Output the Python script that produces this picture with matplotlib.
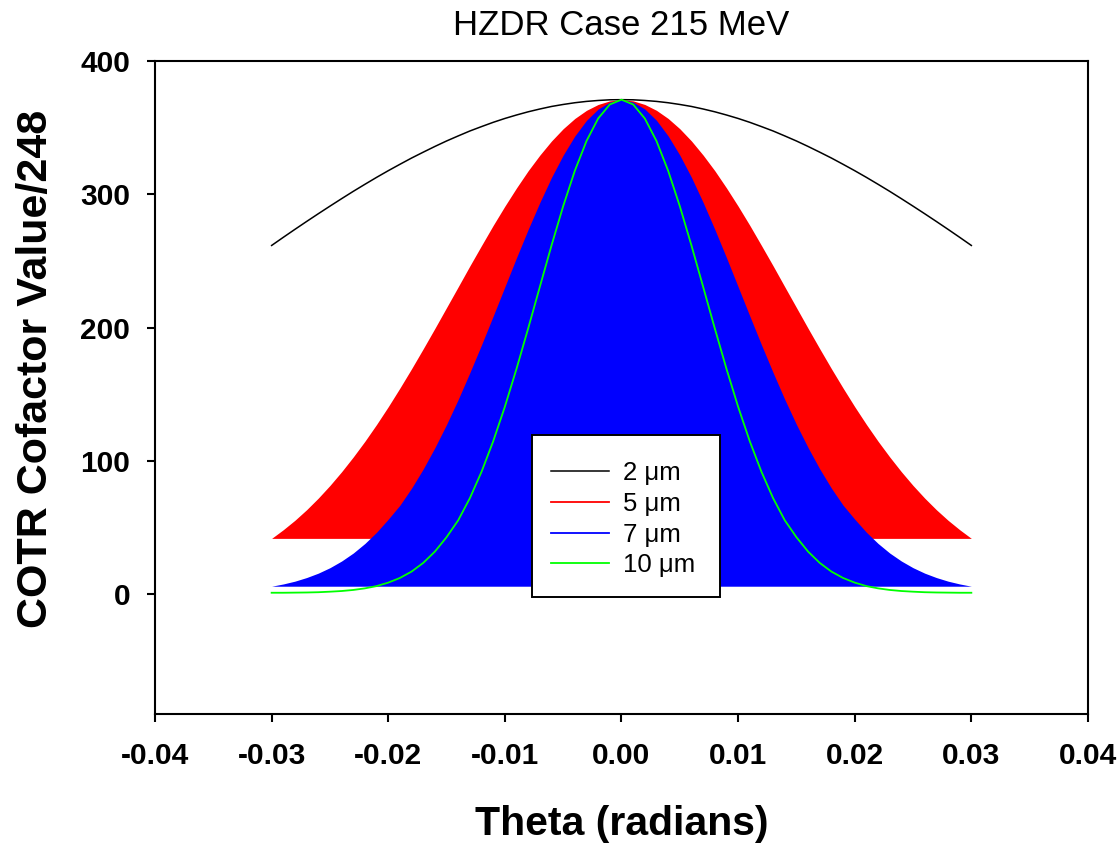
import matplotlib.pyplot as plt
from matplotlib.patches import Rectangle
from matplotlib.ticker import FormatStrFormatter

plt.rcParams['font.family'] = ['Liberation Sans', 'DejaVu Sans']
plt.rcParams['axes.unicode_minus'] = False

# Theta (radians) and the four COTR cofactor curves
theta = [-0.030, -0.029, -0.028, -0.027, -0.026, -0.025, -0.024, -0.023, -0.022, -0.021,
         -0.020, -0.019, -0.018, -0.017, -0.016, -0.015, -0.014, -0.013, -0.012, -0.011,
         -0.010, -0.009, -0.008, -0.007, -0.006, -0.005, -0.004, -0.003, -0.002, -0.001,
         0.000, 0.001, 0.002, 0.003, 0.004, 0.005, 0.006, 0.007, 0.008, 0.009,
         0.010, 0.011, 0.012, 0.013, 0.014, 0.015, 0.016, 0.017, 0.018, 0.019,
         0.020, 0.021, 0.022, 0.023, 0.024, 0.025, 0.026, 0.027, 0.028, 0.029, 0.030]

cof_2um = [261.6, 267.7, 273.7, 279.6, 285.4, 291.1, 296.7, 302.2, 307.5, 312.7,
           317.7, 322.5, 327.2, 331.6, 335.9, 340.0, 343.8, 347.5, 350.8, 354.0,
           356.9, 359.5, 361.9, 364.0, 365.9, 367.4, 368.7, 369.7, 370.4, 370.9,
           371.0, 370.9, 370.4, 369.7, 368.7, 367.4, 365.9, 364.0, 361.9, 359.5,
           356.9, 354.0, 350.8, 347.5, 343.8, 340.0, 335.9, 331.6, 327.2, 322.5,
           317.7, 312.7, 307.5, 302.2, 296.7, 291.1, 285.4, 279.6, 273.7, 267.7, 261.6]

cof_5um = [41.8, 48.3, 55.4, 63.3, 72.0, 81.5, 91.8, 102.9, 114.7, 127.3,
           140.6, 154.6, 169.1, 184.1, 199.4, 215.0, 230.6, 246.3, 261.6, 276.7,
           291.1, 304.8, 317.7, 329.4, 340.0, 349.2, 356.9, 363.0, 367.4, 370.1,
           371.0, 370.1, 367.4, 363.0, 356.9, 349.2, 340.0, 329.4, 317.7, 304.8,
           291.1, 276.7, 261.6, 246.3, 230.6, 215.0, 199.4, 184.1, 169.1, 154.6,
           140.6, 127.3, 114.7, 102.9, 91.8, 81.5, 72.0, 63.3, 55.4, 48.3, 41.8]

cof_7um = [5.9, 7.6, 9.7, 12.4, 15.7, 19.8, 24.8, 30.8, 38.0, 46.4,
           56.2, 66.7, 79.5, 93.9, 109.9, 127.3, 146.1, 166.2, 187.1, 208.7,
           230.6, 252.5, 273.7, 293.9, 312.7, 329.4, 343.8, 355.5, 364.0, 369.2,
           371.0, 369.2, 364.0, 355.5, 343.8, 329.4, 312.7, 293.9, 273.7, 252.5,
           230.6, 208.7, 187.1, 166.2, 146.1, 127.3, 109.9, 93.9, 79.5, 66.7,
           56.2, 46.4, 38.0, 30.8, 24.8, 19.8, 15.7, 12.4, 9.7, 7.6, 5.9]

cof_10um = [1.0, 1.0, 1.1, 1.2, 1.4, 1.8, 2.3, 3.1, 4.3, 6.0,
            8.6, 12.1, 16.9, 23.4, 31.9, 42.7, 55.4, 72.0, 91.8, 114.7,
            140.6, 169.1, 199.4, 230.6, 261.6, 291.1, 317.7, 340.0, 356.9, 367.4,
            371.0, 367.4, 356.9, 340.0, 317.7, 291.1, 261.6, 230.6, 199.4, 169.1,
            140.6, 114.7, 91.8, 72.0, 55.4, 42.7, 31.9, 23.4, 16.9, 12.1,
            8.6, 6.0, 4.3, 3.1, 2.3, 1.8, 1.4, 1.2, 1.1, 1.0, 1.0]

labels = ['2 \u03bcm', '5 \u03bcm', '7 \u03bcm', '10 \u03bcm']
colors = ['black', '#ff0000', '#0000ff', '#00ff00']

fig = plt.figure(figsize=(11.2, 8.44), dpi=100)
ax = fig.add_axes([0.1384, 0.154, 0.833, 0.7737])

# filled regions go down to each curve's own minimum
ax.fill_between(theta, cof_5um, min(cof_5um), color=colors[1], lw=0, zorder=2)
ax.fill_between(theta, cof_7um, min(cof_7um), color=colors[2], lw=0, zorder=3)
l1, = ax.plot(theta, cof_2um, color=colors[0], lw=1.1, zorder=4)
l4, = ax.plot(theta, cof_10um, color=colors[3], lw=1.3, zorder=5)
l2 = plt.Line2D([], [], color=colors[1], lw=1.3)
l3 = plt.Line2D([], [], color=colors[2], lw=1.3)

ax.set_xlim(-0.04, 0.04)
ax.set_ylim(-90, 400)
ax.set_xticks([-0.04, -0.03, -0.02, -0.01, 0.0, 0.01, 0.02, 0.03, 0.04])
ax.set_yticks([0, 100, 200, 300, 400])
ax.xaxis.set_major_formatter(FormatStrFormatter('%.2f'))

for s in ax.spines.values():
    s.set_linewidth(1.5)
ax.tick_params(direction='out', length=6, width=1.5, top=False, right=False,
               labelsize=21.5, pad=12)
ax.tick_params(axis='x', pad=14)
for t in ax.get_xticklabels() + ax.get_yticklabels():
    t.set_fontweight('bold')

ax.set_title('HZDR Case 215 MeV', fontsize=25, pad=19)
ax.set_xlabel('Theta (radians)', fontsize=29.5, fontweight='bold')
ax.set_ylabel('COTR Cofactor Value/248', fontsize=31, fontweight='bold')
ax.xaxis.set_label_coords(0.5, -0.14)
ax.yaxis.set_label_coords(-0.106, 0.529)

# legend box drawn by hand, legend entries inside without frame
ax.add_patch(Rectangle((0.404, 0.179), 0.202, 0.248, transform=ax.transAxes,
                       facecolor='white', edgecolor='black', lw=1.4, zorder=6))
leg = ax.legend([l1, l2, l3, l4], labels, loc='upper left',
                bbox_to_anchor=(0.4244, 0.388), frameon=False, fontsize=18.5,
                handlelength=2.25, handletextpad=0.56, labelspacing=0.27,
                borderpad=0, borderaxespad=0)
leg.set_zorder(7)

fig.savefig('out.png', dpi=100)
